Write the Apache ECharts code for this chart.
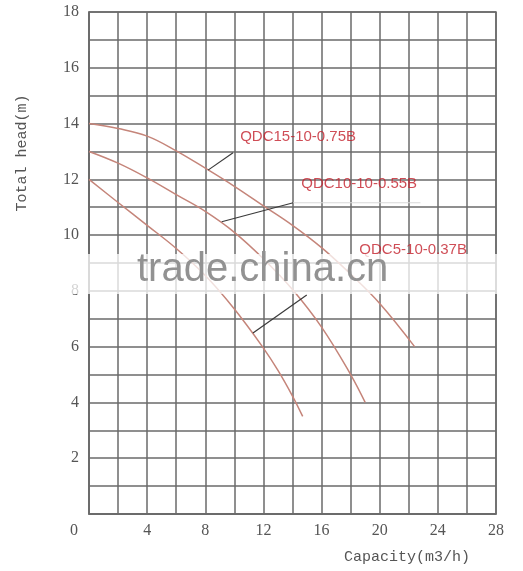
<!DOCTYPE html>
<html>
<head>
<meta charset="utf-8">
<script src="https://cdn.jsdelivr.net/npm/echarts@6/dist/echarts.min.js"></script>
<style>
  html, body { margin: 0; padding: 0; background: #fff; }
  #pump_chart { width: 523px; height: 571px; }
</style>
</head>
<body>
<div id="pump_chart"></div>
<script>
// pump curves, [capacity m3/h, head m]
const qdc15 = [[0, 14.0], [2, 13.82], [4, 13.55], [6, 13.02], [8, 12.4], [10, 11.75], [12, 11.05], [14, 10.35], [16, 9.55], [18, 8.6], [20, 7.55], [22.4, 6.0]]
const qdc10 = [[0, 13.0], [2, 12.58], [4, 12.05], [6, 11.45], [8, 10.85], [10, 10.1], [12, 9.15], [14, 8.05], [16, 6.7], [18, 5.0], [19, 4.0]]
const qdc5 = [[0, 12.0], [2, 11.17], [4, 10.35], [6, 9.52], [8, 8.55], [10, 7.35], [12, 5.95], [13, 5.15], [14, 4.23], [14.7, 3.5]]
const models = ['QDC15-10-0.75B', 'QDC10-10-0.55B', 'QDC5-10-0.37B']

const xTicks = [0, 4, 8, 12, 16, 20, 24, 28]
const yTicks = [2, 4, 6, 8, 10, 12, 14, 16, 18]

// leader lines and label anchors (data units)
const leaders = [
  [[8.19, 12.33], [9.91, 12.95]],
  [[9.13, 10.48], [14.05, 11.16]],
  [[11.28, 6.49], [14.98, 7.85]]
]
const labelAt = [[10.4, 13.52], [14.6, 11.83], [18.6, 9.47]]

const myChart = echarts.init(document.getElementById('pump_chart'))

const curveStyle = { color: '#c5857a', width: 1.5 }
const serif = 'Liberation Serif, DejaVu Serif, serif'
const mono = 'Liberation Mono, DejaVu Sans Mono, monospace'

const curves = [qdc15, qdc10, qdc5].map((d, i) => ({
  name: models[i],
  type: 'line',
  data: d,
  smooth: 0.4,
  showSymbol: false,
  silent: true,
  lineStyle: curveStyle,
  z: 3
}))

const leaderSeries = leaders.map(l => ({
  type: 'line',
  data: l,
  showSymbol: false,
  silent: true,
  lineStyle: { color: '#3a3a3a', width: 1.2 },
  z: 4
}))

const option = {
  animation: false,
  grid: {
    left: 89, right: 27, top: 12, bottom: 57,
    show: true, borderColor: '#6a6a6a', borderWidth: 1.5
  },
  xAxis: {
    type: 'value',
    min: 0, max: 28, interval: 2,
    axisLine: { lineStyle: { color: '#6a6a6a', width: 1.5 } },
    axisTick: { show: false },
    splitLine: { lineStyle: { color: '#6a6a6a', width: 1.5 } },
    axisLabel: {
      margin: 9,
      color: '#555',
      fontFamily: serif,
      fontSize: 16,
      formatter: v => {
        if (!xTicks.includes(v)) return ''
        return v === 0 ? '{o|0}' : String(v)
      },
      rich: { o: { padding: [0, 30, 0, 0], fontFamily: serif, fontSize: 16, color: '#555' } }
    }
  },
  yAxis: {
    type: 'value',
    min: 0, max: 18, interval: 1,
    axisLine: { lineStyle: { color: '#6a6a6a', width: 1.5 } },
    axisTick: { show: false },
    splitLine: { lineStyle: { color: '#6a6a6a', width: 1.5 } },
    axisLabel: {
      margin: 10,
      color: '#555',
      fontFamily: serif,
      fontSize: 16,
      showMinLabel: false,
      formatter: v => yTicks.includes(v) ? String(v) : ''
    }
  },
  series: [
    ...curves,
    ...leaderSeries,
    {
      type: 'line',
      data: [[14.05, 11.16], [22.8, 11.16]],
      showSymbol: false,
      silent: true,
      lineStyle: { color: '#d8d8d8', width: 1 },
      z: 4
    },
    {
      type: 'scatter',
      data: labelAt.map((p, i) => [p[0], p[1], models[i]]),
      symbolSize: 0,
      silent: true,
      z: 6,
      label: {
        show: true,
        position: 'right',
        distance: 0,
        formatter: p => p.data[2],
        color: '#c3202c',
        fontFamily: 'Liberation Sans, Arial, sans-serif',
        fontSize: 15
      }
    }
  ],
  graphic: [
    {
      type: 'rect',
      shape: { x: 58, y: 254, width: 447, height: 40 },
      style: { fill: 'rgba(255,255,255,0.75)' },
      z: 50
    },
    {
      type: 'text',
      left: 137,
      top: 250,
      style: {
        text: 'trade.china.cn',
        font: '40px Liberation Sans, Arial, sans-serif',
        fill: '#929292'
      },
      z: 51
    },
    {
      type: 'text',
      x: 22,
      y: 153,
      rotation: Math.PI / 2,
      style: {
        text: 'Total head(m)',
        font: '15px ' + mono,
        fill: '#555',
        align: 'center',
        verticalAlign: 'middle'
      }
    },
    {
      type: 'text',
      x: 407,
      y: 557,
      style: {
        text: 'Capacity(m3/h)',
        font: '15px ' + mono,
        fill: '#555',
        align: 'center',
        verticalAlign: 'middle'
      }
    }
  ]
}
myChart.setOption(option)
</script>
</body>
</html>
